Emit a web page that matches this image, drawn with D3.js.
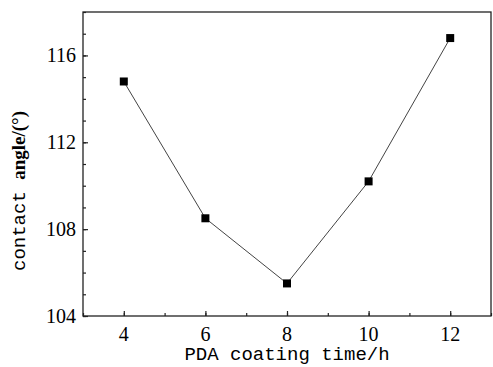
<!DOCTYPE html>
<html>
<head>
<meta charset="utf-8">
<script src="https://cdn.jsdelivr.net/npm/d3@7"></script>
<style>
  body { margin: 0; background: #fff; }
  svg { display: block; }
</style>
</head>
<body>
<svg id="chart" width="493" height="367"></svg>
<script>
var coatingTime = [4, 6, 8, 10, 12];
var contactAngle = [114.8, 108.5, 105.5, 110.2, 116.8];
var xTicks = [4, 6, 8, 10, 12];
var yTicks = [104, 108, 112, 116];

var margin = {left: 83, top: 12, right: 2, bottom: 51};
var width = 493 - margin.left - margin.right;
var height = 367 - margin.top - margin.bottom;

var svg = d3.select('#chart');
var g = svg.append('g').attr('transform', 'translate(' + margin.left + ',' + margin.top + ')');

var x = d3.scaleLinear().domain([3, 13]).range([0, width]);
var y = d3.scaleLinear().domain([104, 118]).range([height, 0]);

// frame
g.append('rect')
    .attr('width', width)
    .attr('height', height)
    .attr('fill', 'none')
    .attr('stroke', '#222')
    .attr('stroke-width', 1.3)
;

// minor ticks (inward)
var xAxisMinor = d3.axisTop(x).tickValues(d3.range(3, 14, 1)).tickSize(3).tickFormat('');
var yAxisMinor = d3.axisRight(y).tickValues(d3.range(104, 119, 1)).tickSize(3).tickFormat('');
g.append('g').attr('transform', 'translate(0,' + height + ')').call(xAxisMinor);
g.append('g').call(yAxisMinor);

// major ticks
var xAxis = d3.axisTop(x).tickValues(xTicks).tickSize(5).tickFormat('');
var yAxis = d3.axisRight(y).tickValues(yTicks).tickSize(5).tickFormat('');
g.append('g').attr('transform', 'translate(0,' + height + ')').call(xAxis);
g.append('g').call(yAxis);

g.selectAll('.domain').remove();
g.selectAll('.tick line').attr('stroke', '#222').attr('stroke-width', 1.2);

// tick labels
g.selectAll('.xlab')
    .data(xTicks)
    .enter()
    .append('text')
    .attr('x', function(d) { return x(d); })
    .attr('y', height + 25)
    .attr('text-anchor', 'middle')
    .style('font-family', '"Liberation Serif", serif')
    .style('font-size', '20px')
    .text(function(d) { return d; })
;
g.selectAll('.ylab')
    .data(yTicks)
    .enter()
    .append('text')
    .attr('x', -7)
    .attr('y', function(d) { return y(d); })
    .attr('dy', '0.34em')
    .attr('text-anchor', 'end')
    .style('font-family', '"Liberation Serif", serif')
    .style('font-size', '20px')
    .text(function(d) { return d; })
;

// line + markers
var pts = coatingTime.map(function(t, i) { return [t, contactAngle[i]]; });
g.append('path')
    .datum(pts)
    .attr('fill', 'none')
    .attr('stroke', '#444')
    .attr('stroke-width', 1)
    .attr('d', d3.line().x(function(d) { return x(d[0]); }).y(function(d) { return y(d[1]); }))
;
g.selectAll('.pt')
    .data(pts)
    .enter()
    .append('rect')
    .attr('x', function(d) { return x(d[0]) - 4; })
    .attr('y', function(d) { return y(d[1]) - 4; })
    .attr('width', 8)
    .attr('height', 8)
    .attr('fill', '#000')
;

// axis titles
svg.append('text')
    .attr('x', margin.left + x(8))
    .attr('y', 360)
    .attr('text-anchor', 'middle')
    .style('font-family', '"Liberation Mono", monospace')
    .style('font-size', '19px')
    .text('PDA coating time/h')
;

var yt = svg.append('text')
    .attr('transform', 'translate(25,191) rotate(-90)')
    .attr('text-anchor', 'middle')
;
yt.append('tspan')
    .style('font-family', '"Liberation Mono", monospace')
    .style('font-size', '19px')
    .text('contact ')
;
yt.append('tspan')
    .style('font-family', '"Liberation Serif", serif')
    .style('font-weight', 'bold')
    .style('font-size', '19px')
    .text('angle/(°)')
;
</script>
</body>
</html>
